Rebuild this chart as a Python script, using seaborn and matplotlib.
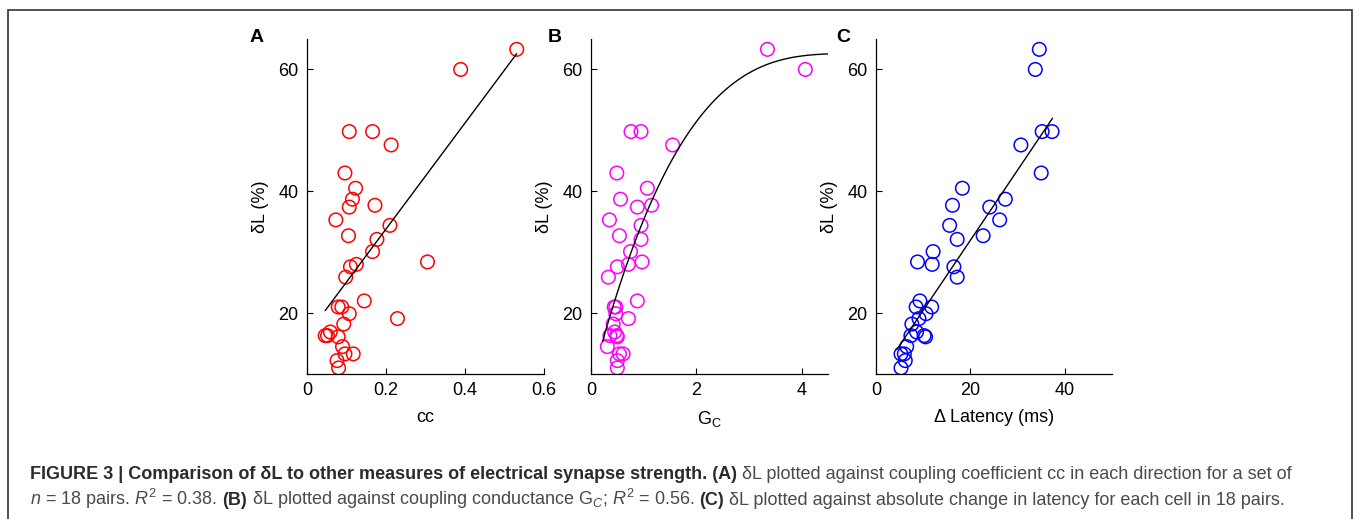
import numpy as np
import pandas as pd
import matplotlib
matplotlib.use("Agg")
import matplotlib.pyplot as plt
from matplotlib.patches import Rectangle
import seaborn as sns

# delta L (%) for each cell, shared by the three panels
dl = [63.3, 60.0, 49.8, 49.8, 47.6, 43.0, 40.5, 38.7, 37.4, 37.7, 35.3, 34.4,
      32.7, 32.1, 30.1, 28.4, 28.0, 27.6, 25.9, 22.0, 21.0, 21.0, 19.9, 19.1,
      18.2, 16.9, 16.3, 16.3, 16.1, 14.5, 13.3, 13.3, 12.2, 11.0]
# coupling coefficient
cc = [0.531, 0.389, 0.107, 0.166, 0.213, 0.096, 0.123, 0.115, 0.107, 0.172, 0.073, 0.210,
      0.105, 0.177, 0.166, 0.305, 0.125, 0.110, 0.098, 0.145, 0.079, 0.088, 0.107, 0.229,
      0.093, 0.059, 0.046, 0.052, 0.079, 0.090, 0.096, 0.117, 0.076, 0.080]
# coupling conductance
gc = [3.35, 4.07, 0.76, 0.95, 1.55, 0.49, 1.07, 0.56, 0.88, 1.15, 0.35, 0.95,
      0.54, 0.95, 0.75, 0.97, 0.71, 0.50, 0.33, 0.88, 0.44, 0.47, 0.47, 0.71,
      0.42, 0.45, 0.36, 0.49, 0.50, 0.31, 0.54, 0.61, 0.50, 0.50]
# change in latency (ms)
dlat = [34.6, 33.75, 35.2, 37.3, 30.7, 35.0, 18.3, 27.4, 24.1, 16.2, 26.2, 15.6,
        22.7, 17.2, 12.1, 8.8, 11.9, 16.5, 17.2, 9.3, 8.5, 11.8, 10.6, 9.1,
        7.6, 8.6, 7.4, 10.2, 10.5, 6.5, 5.3, 6.0, 6.2, 5.3]

# fitted lines
fit_a_x = [0.046, 0.531]
fit_a_y = [20.4, 62.6]
fit_c_x = [4.4, 37.4]
fit_c_y = [14.0, 52.0]
# samples along the curved fit in B
fit_b_x = [0.22, 0.49, 0.75, 0.95, 1.25, 1.59, 1.88, 2.51, 3.15, 3.78, 4.28, 4.54]
fit_b_y = [15.8, 22.1, 30.2, 34.3, 40.1, 46.6, 49.9, 55.9, 60.0, 62.2, 62.55, 62.4]

df = pd.DataFrame({"dl": dl, "cc": cc, "gc": gc, "dlat": dlat})

# smooth the B curve with a cubic through the samples
coef_b = np.polyfit(fit_b_x, fit_b_y, 3)
xs_b = np.linspace(fit_b_x[0], 4.5, 200)
fit_b = pd.DataFrame({"x": xs_b, "y": np.polyval(coef_b, xs_b)})
fits = {
    "cc": pd.DataFrame({"x": fit_a_x, "y": fit_a_y}),
    "gc": fit_b,
    "dlat": pd.DataFrame({"x": fit_c_x, "y": fit_c_y}),
}

W, H = 1354, 519

sns.set_theme(style="ticks")
plt.rcParams["font.family"] = ["Liberation Sans", "DejaVu Sans"]
plt.rcParams["mathtext.fontset"] = "custom"
plt.rcParams["mathtext.rm"] = "Liberation Sans"
plt.rcParams["mathtext.it"] = "Liberation Sans:italic"
plt.rcParams["mathtext.bf"] = "Liberation Sans:bold"
plt.rcParams["xtick.direction"] = "in"
plt.rcParams["ytick.direction"] = "in"

fig = plt.figure(figsize=(W / 100, H / 100), dpi=100)
fig.patch.set_facecolor("white")


def px_axes(left, right, top, bottom):
    return fig.add_axes([left / W, 1 - bottom / H, (right - left) / W, (bottom - top) / H])


panels = [
    ("A", "cc", "cc", "#ff0000", (0, 0.6), [0, 0.2, 0.4, 0.6], ["0", "0.2", "0.4", "0.6"], 307, 544, 257),
    ("B", "gc", "G$_\\mathrm{C}$", "#ff00ff", (0, 4.5), [0, 2, 4], ["0", "2", "4"], 591, 828, 555),
    ("C", "dlat", "\u0394 Latency (ms)", "#0000ff", (0, 50), [0, 20, 40], ["0", "20", "40"], 876, 1112, 843),
]

for letter, col, xlab, color, xlim, xt, xtl, left, right, lx in panels:
    ax = px_axes(left, right, 39, 374)
    ax.set_facecolor("white")
    sns.scatterplot(data=df, x=col, y="dl", ax=ax, marker="o", s=95,
                    facecolor="none", edgecolor=color, linewidth=1.1)
    sns.lineplot(data=fits[col], x="x", y="y", ax=ax, color="black", lw=1,
                 sort=False, estimator=None)
    ax.set_xlim(*xlim)
    ax.set_ylim(10, 65)
    ax.set_xticks(xt)
    ax.set_xticklabels(xtl)
    ax.set_yticks([20, 40, 60])
    ax.set_yticklabels(["20", "40", "60"])
    ax.tick_params(labelsize=13, length=4, width=0.8, colors="black", pad=6)
    ax.set_xlabel(xlab, fontsize=13, color="black", labelpad=7)
    ax.set_ylabel("\u03b4L (%)", fontsize=13, color="black", labelpad=7)
    sns.despine(ax=ax)
    for s in ["left", "bottom"]:
        ax.spines[s].set_color("black")
        ax.spines[s].set_linewidth(0.9)
    fig.text(lx / W, 1 - 38 / H, letter, fontsize=14, fontweight="bold",
             ha="center", va="center", color="black")

# frame around the figure
fig.add_artist(Rectangle((8 / W, -0.05), (1352 - 8) / W, 1.05 - 10 / H,
                         transform=fig.transFigure, fill=False,
                         edgecolor="#333333", lw=1.2))

# caption, drawn piece by piece
renderer = fig.canvas.get_renderer()
cap_size = 13


def text_width(s, weight):
    t = fig.text(0, 0, s, fontsize=cap_size, fontweight=weight)
    w = t.get_window_extent(renderer=renderer).width
    t.remove()
    return w


space_w = text_width("a a", "normal") - text_width("aa", "normal")


def caption_line(x_px, base_px, pieces):
    x = x_px
    for i, (s, weight, color) in enumerate(pieces):
        if i > 0:
            x += space_w
        t = fig.text(x / W, 1 - base_px / H, s, fontsize=cap_size, fontweight=weight,
                     color=color, ha="left", va="baseline")
        x += t.get_window_extent(renderer=renderer).width


dark = "#2b2b2b"
grey = "#4a4a4a"
caption_line(30, 479, [
    ("FIGURE 3 | Comparison of \u03b4L to other measures of electrical synapse strength. (A)", "bold", dark),
    ("\u03b4L plotted against coupling coefficient cc in each direction for a set of", "normal", grey),
])
caption_line(30, 505, [
    ("$n$ = 18 pairs. $R^2$ = 0.38.", "normal", grey),
    ("(B)", "bold", dark),
    ("\u03b4L plotted against coupling conductance G$_C$; $R^2$ = 0.56.", "normal", grey),
    ("(C)", "bold", dark),
    ("\u03b4L plotted against absolute change in latency for each cell in 18 pairs.", "normal", grey),
])

fig.savefig("out.png", dpi=100, facecolor="white")
